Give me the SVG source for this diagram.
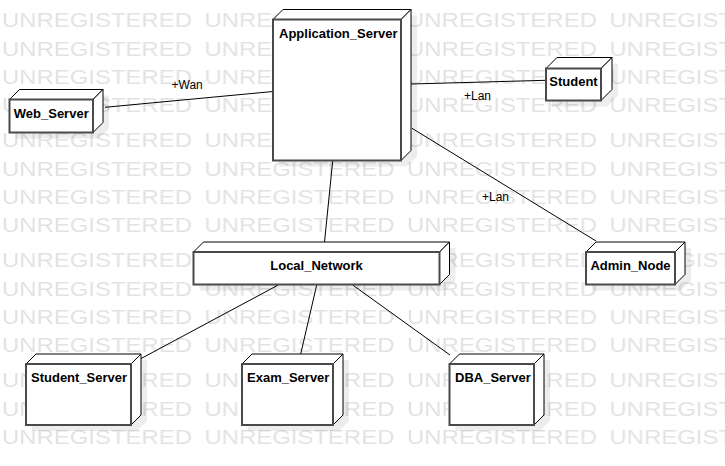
<svg xmlns="http://www.w3.org/2000/svg" width="725" height="466" viewBox="0 0 725 466">
<style>
.wm{font-family:"Liberation Sans",Arial,sans-serif;font-size:19.5px;fill:#e2e2e2}
.front{fill:#fff;stroke:#4a4a4a;stroke-width:2}
.edge{fill:#fff;stroke:#000;stroke-width:1;stroke-linejoin:round}
.shadow{fill:#000;fill-opacity:0.07}
.name{font-family:"Liberation Sans",Arial,sans-serif;font-size:13px;font-weight:bold;fill:#000}
.lbl{font-family:"Liberation Sans",Arial,sans-serif;font-size:12px;fill:#000}
.conn line{stroke:#000;stroke-width:1}
</style>
<defs>
<pattern id="wmp" x="0" y="0" width="202.5" height="120" patternUnits="userSpaceOnUse">
<text class="wm" x="2" y="27.3" textLength="190" lengthAdjust="spacingAndGlyphs">UNREGISTERED</text>
<text class="wm" x="2" y="55.6" textLength="190" lengthAdjust="spacingAndGlyphs">UNREGISTERED</text>
<text class="wm" x="2" y="84" textLength="190" lengthAdjust="spacingAndGlyphs">UNREGISTERED</text>
<text class="wm" x="2" y="112.3" textLength="190" lengthAdjust="spacingAndGlyphs">UNREGISTERED</text>
</pattern>
</defs>
<rect width="725" height="466" fill="#fff"/>
<rect id="watermark" width="725" height="452" fill="url(#wmp)"/>

<g id="connectors" class="conn">
<line x1="105" y1="107.3" x2="273" y2="91.5"/>
<line x1="411" y1="84" x2="546" y2="80.3"/>
<line x1="412" y1="128.3" x2="596" y2="241"/>
<line x1="332.7" y1="161" x2="324.5" y2="242"/>
<line x1="278.3" y1="285" x2="138.3" y2="360"/>
<line x1="316.7" y1="285" x2="300.7" y2="354"/>
<line x1="352.7" y1="285" x2="450" y2="355"/>
<text class="lbl" x="171.5" y="88.6">+Wan</text>
<text class="lbl" x="464" y="100.3">+Lan</text>
<text class="lbl" x="482" y="201">+Lan</text>
</g>

<g id="application_server">
<polygon class="shadow" points="279,25.5 289,15.5 417,15.5 417,156.5 407,166.5 279,166.5"/>
<polygon class="edge" points="273,19.5 283,9.5 411,9.5 401,19.5"/>
<polygon class="edge" points="401,19.5 411,9.5 411,150.5 401,160.5"/>
<rect class="front" x="273" y="19.5" width="128" height="141"/>
<text class="name" x="279" y="37.5">Application_Server</text>
</g>

<g id="web_server">
<polygon class="shadow" points="15.5,105.5 25.5,95.5 109,95.5 109,128.5 99,138.5 15.5,138.5"/>
<polygon class="edge" points="9.5,99.5 19.5,89.5 103,89.5 93,99.5"/>
<polygon class="edge" points="93,99.5 103,89.5 103,122.5 93,132.5"/>
<rect class="front" x="9.5" y="99.5" width="83.5" height="33"/>
<text class="name" x="51.25" y="117.6" text-anchor="middle">Web_Server</text>
</g>

<g id="student">
<polygon class="shadow" points="552,74.5 563,63.5 618,63.5 618,95.5 607,106.5 552,106.5"/>
<polygon class="edge" points="546,68.5 557,57.5 612,57.5 601,68.5"/>
<polygon class="edge" points="601,68.5 612,57.5 612,89.5 601,100.5"/>
<rect class="front" x="546" y="68.5" width="55" height="32"/>
<text class="name" x="573.5" y="85.5" text-anchor="middle">Student</text>
</g>

<g id="local_network">
<polygon class="shadow" points="199.5,258 209.5,248 455.5,248 455.5,280.5 445.5,290.5 199.5,290.5"/>
<polygon class="edge" points="193.5,252 203.5,242 449.5,242 439.5,252"/>
<polygon class="edge" points="439.5,252 449.5,242 449.5,274.5 439.5,284.5"/>
<rect class="front" x="193.5" y="252" width="246" height="32.5"/>
<text class="name" x="316.5" y="270" text-anchor="middle">Local_Network</text>
</g>

<g id="admin_node">
<polygon class="shadow" points="592,258 602,248 691,248 691,280.5 681,290.5 592,290.5"/>
<polygon class="edge" points="586,252 596,242 685,242 675,252"/>
<polygon class="edge" points="675,252 685,242 685,274.5 675,284.5"/>
<rect class="front" x="586" y="252" width="89" height="32.5"/>
<text class="name" x="630.5" y="270" text-anchor="middle">Admin_Node</text>
</g>

<g id="student_server">
<polygon class="shadow" points="32,370 42,360 147,360 147,421 137,431 32,431"/>
<polygon class="edge" points="26,364 36,354 141,354 131,364"/>
<polygon class="edge" points="131,364 141,354 141,415 131,425"/>
<rect class="front" x="26" y="364" width="105" height="61"/>
<text class="name" x="31" y="381.6">Student_Server</text>
</g>

<g id="exam_server">
<polygon class="shadow" points="248,370 258,360 349,360 349,421 339,431 248,431"/>
<polygon class="edge" points="242,364 252,354 343,354 333,364"/>
<polygon class="edge" points="333,364 343,354 343,415 333,425"/>
<rect class="front" x="242" y="364" width="91" height="61"/>
<text class="name" x="247" y="381.6">Exam_Server</text>
</g>

<g id="dba_server">
<polygon class="shadow" points="455.5,370 465.5,360 550,360 550,421 540,431 455.5,431"/>
<polygon class="edge" points="449.5,364 459.5,354 544,354 534,364"/>
<polygon class="edge" points="534,364 544,354 544,415 534,425"/>
<rect class="front" x="449.5" y="364" width="84.5" height="61"/>
<text class="name" x="455" y="381.6">DBA_Server</text>
</g>
</svg>
